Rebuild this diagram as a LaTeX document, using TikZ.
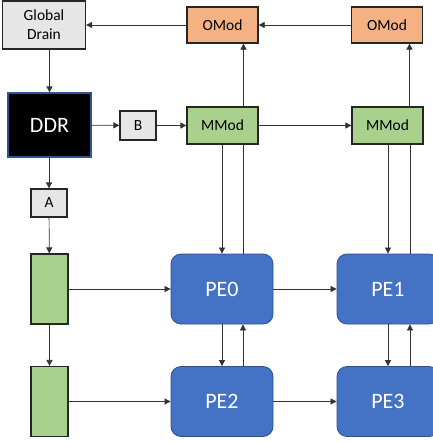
\documentclass[tikz,border=0pt]{standalone}
\usepackage{fontspec}
\setmainfont{Carlito}
\usetikzlibrary{arrows.meta}

\definecolor{boxgray}{HTML}{E7E6E6}
\definecolor{omodfill}{HTML}{F4B183}
\definecolor{mmodfill}{HTML}{A9D18E}
\definecolor{pefill}{HTML}{4472C4}
\definecolor{peline}{HTML}{2F528F}
\definecolor{ddrline}{HTML}{2F5597}

\tikzset{
  blk/.style={draw=black!85, line width=1.2pt, inner sep=0pt, align=center,
    font=\fontsize{15.5}{19}\selectfont},
  gbox/.style={blk, fill=boxgray},
  obox/.style={blk, fill=omodfill, minimum width=71pt, minimum height=36pt},
  mbox/.style={blk, fill=mmodfill, minimum width=71pt, minimum height=37pt},
  feed/.style={blk, fill=mmodfill, minimum width=37pt, minimum height=70pt},
  pe/.style={draw=peline, line width=0.8pt, fill=pefill, rounded corners=10pt,
    minimum width=102pt, minimum height=70pt, inner sep=0pt, text=white,
    font=\fontsize{22}{26}\selectfont},
  link/.style={draw=black!80, line width=0.7pt}
}

\begin{document}
\begin{tikzpicture}[x=1pt, y=-1pt, >={Triangle[length=6pt,width=6pt]}]
    \useasboundingbox (0,0) rectangle (433,442);

    \node[gbox, minimum width=83pt, minimum height=48pt] (drain) at (44,25) {Global\\Drain};
    \node[obox] (omodA) at (222.5,25) {OMod};
    \node[obox] (omodB) at (387,25) {OMod};

    \node[blk, fill=black, draw=ddrline, text=white, minimum width=83pt, minimum height=64pt,
      font=\fontsize{22}{26}\selectfont] (ddr) at (49.5,125) {DDR};
    \node[gbox, minimum width=36pt, minimum height=29pt] (bbox) at (138,125.5) {B};
    \node[mbox] (mmodA) at (222.5,125.5) {MMod};
    \node[mbox] (mmodB) at (387.5,125.5) {MMod};

    \node[gbox, minimum width=36pt, minimum height=28pt] (abox) at (49,203) {A};
    \node[feed] (feedA) at (49.5,289) {};
    \node[feed] (feedB) at (49.5,401.5) {};

    \node[pe] (pe0) at (222,289) {PE0};
    \node[pe] (pe1) at (388,289) {PE1};
    \node[pe] (pe2) at (222,401.5) {PE2};
    \node[pe] (pe3) at (388,401.5) {PE3};

    % top row
    \draw[link,->] (omodB) -- (omodA);
    \draw[link,->] (omodA) -- (omodA -| drain.east);
    \draw[link,->] (drain.south -| ddr) -- (ddr);
    \draw[link,->] (ddr) -- (bbox);
    \draw[link,->] (bbox) -- (mmodA);
    \draw[link,->] (mmodA) -- (mmodB);
    \draw[link,->] ([xshift=21pt]mmodA.north) -- ([xshift=21pt]mmodA.north |- omodA.south);
    \draw[link,->] ([xshift=22pt]mmodB.north) -- ([xshift=22pt]mmodB.north |- omodB.south);

    % left column
    \draw[link,->] (ddr.south -| abox) -- (abox);
    \draw[link,->] (abox) -- (feedA);
    \draw[link,->] (feedA) -- (feedB);
    \draw[link,->] (feedA) -- (pe0);
    \draw[link,->] (feedB) -- (pe2);

    % PE grid
    \draw[link,->] (pe0) -- (pe1);
    \draw[link,->] (pe2) -- (pe3);
    \draw[link,->] (mmodA.south -| pe0) -- (pe0);
    \draw[link] ([xshift=21pt]pe0.north) -- ([xshift=21pt]pe0.north |- mmodA.south);
    \draw[link,->] (mmodB.south -| pe1) -- (pe1);
    \draw[link] ([xshift=22pt]pe1.north) -- ([xshift=22pt]pe1.north |- mmodB.south);
    \draw[link,->] (pe0) -- (pe2);
    \draw[link,->] ([xshift=21pt]pe2.north) -- ([xshift=21pt]pe0.south);
    \draw[link,->] (pe1) -- (pe3);
    \draw[link,->] ([xshift=22pt]pe3.north) -- ([xshift=22pt]pe1.south);
\end{tikzpicture}
\end{document}
